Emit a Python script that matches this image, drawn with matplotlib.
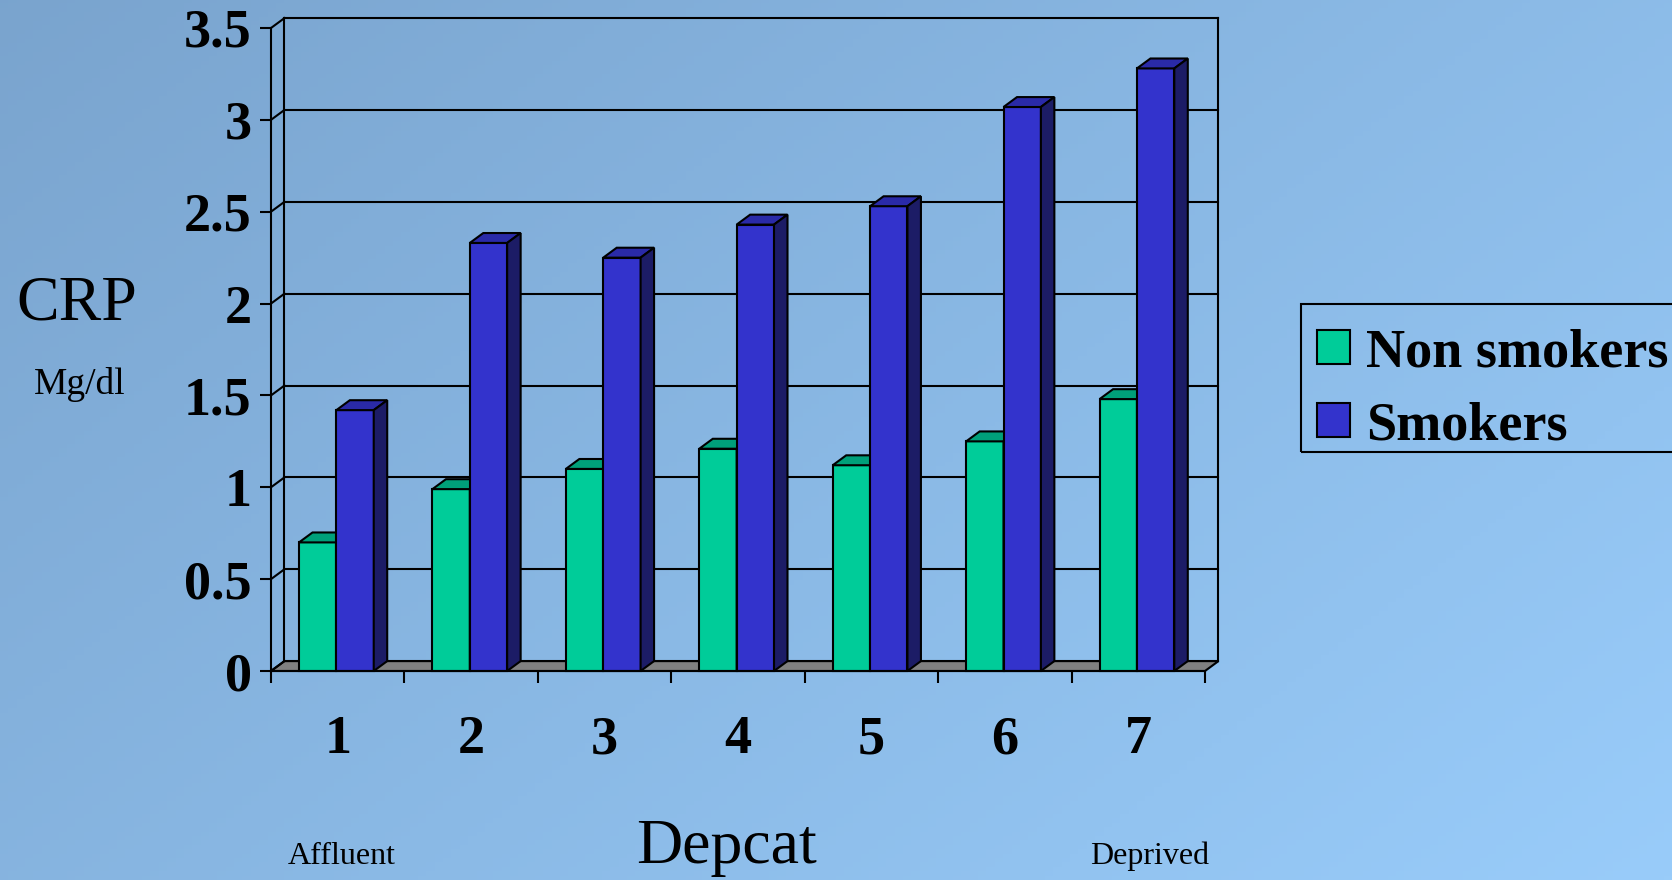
import numpy as np
import matplotlib
matplotlib.use('Agg')
import matplotlib.pyplot as plt
from matplotlib.patches import Polygon, Patch, Rectangle

# data
depcat = ['1', '2', '3', '4', '5', '6', '7']
non_smokers = [0.70, 0.99, 1.10, 1.21, 1.12, 1.25, 1.48]
smokers = [1.42, 2.33, 2.25, 2.43, 2.53, 3.07, 3.28]
series_names = ['Non smokers', 'Smokers']
yticks = [0, 0.5, 1, 1.5, 2, 2.5, 3, 3.5]
ytick_labels = ['0', '0.5', '1', '1.5', '2', '2.5', '3', '3.5']

green = '#00CC99'
green_top = '#00A07A'
blue = '#3333CC'
blue_top = '#2A2AA8'
blue_side = '#1C1C66'

plt.rcParams['font.family'] = ['Liberation Serif', 'DejaVu Serif']

W, H = 1672, 880
fig = plt.figure(figsize=(W / 100, H / 100), dpi=100)

# background gradient (darker top-left, lighter bottom-right)
bg = fig.add_axes([0, 0, 1, 1], zorder=-10)
gx, gy = np.meshgrid(np.linspace(0, 1, 200), np.linspace(0, 1, 200))
t = np.clip(0.6 * gx + 0.4 * gy, 0, 1)
c0 = np.array([0.478, 0.643, 0.808])
c1 = np.array([0.600, 0.800, 0.980])
img = c0[None, None, :] * (1 - t[..., None]) + c1[None, None, :] * t[..., None]
bg.imshow(img, aspect='auto', extent=[0, 1, 0, 1], origin='upper')
bg.axis('off')

# main axes: data (0,0) -> px (271,671), (7,3.5) -> px (1205,28)
x0, x1 = -0.2, 7.3
y0, y1 = -0.3, 3.6
pxc = (1205 - 271) / 7
pxv = (671 - 28) / 3.5
left = 271 + x0 * pxc
right = 271 + x1 * pxc
bottom = 671 - y0 * pxv
top = 671 - y1 * pxv
ax = fig.add_axes([left / W, 1 - bottom / H, (right - left) / W, (bottom - top) / H])
ax.set_xlim(x0, x1)
ax.set_ylim(y0, y1)
ax.patch.set_alpha(0)

n = len(depcat)
dx, dy = 0.101, 0.054
lw = 1.5

# floor
ax.add_patch(Polygon([(0, 0), (n, 0), (n + dx, dy), (dx, dy)], closed=True,
                     facecolor='#808080', edgecolor='black', linewidth=lw, zorder=1))
# back wall gridlines and side wall diagonals
for v in yticks:
    ax.plot([dx, n + dx], [v + dy, v + dy], color='black', lw=lw, zorder=1)
    ax.plot([0, dx], [v, v + dy], color='black', lw=lw, zorder=1)
ax.plot([dx, dx], [dy, 3.5 + dy], color='black', lw=lw, zorder=1)
ax.plot([n + dx, n + dx], [dy, 3.5 + dy], color='black', lw=lw, zorder=1)

# 3d-looking bars
a, w = 0.21, 0.28


def bar3d(xl, h, fc, tc, sc, z):
    ax.bar(xl, h, width=w, align='edge', color=fc, edgecolor='black', linewidth=lw, zorder=z)
    ax.add_patch(Polygon([(xl, h), (xl + w, h), (xl + w + dx, h + dy), (xl + dx, h + dy)],
                         closed=True, facecolor=tc, edgecolor='black', linewidth=lw, zorder=z))
    ax.add_patch(Polygon([(xl + w, 0), (xl + w + dx, dy), (xl + w + dx, h + dy), (xl + w, h)],
                         closed=True, facecolor=sc, edgecolor='black', linewidth=lw, zorder=z))


for i in range(n):
    bar3d(i + a, non_smokers[i], green, green_top, green_top, 3 + i * 0.1)
    bar3d(i + a + w, smokers[i], blue, blue_top, blue_side, 3.05 + i * 0.1)

# axes lines and ticks
for s in ['top', 'right']:
    ax.spines[s].set_visible(False)
ax.spines['left'].set_position(('data', 0))
ax.spines['left'].set_bounds(0, 3.5)
ax.spines['bottom'].set_position(('data', 0))
ax.spines['bottom'].set_bounds(0, n)
for s in ['left', 'bottom']:
    ax.spines[s].set_linewidth(lw)
    ax.spines[s].set_zorder(5)

ax.set_yticks(yticks)
ax.set_yticklabels(ytick_labels, fontsize=39, fontweight='bold')
ax.tick_params(axis='y', direction='out', length=8, width=lw, pad=6)
ax.set_xticks(np.arange(n + 1))
ax.set_xticklabels([])
ax.tick_params(axis='x', which='major', direction='out', length=8.5, width=lw)
ax.set_xticks(np.arange(n) + 0.5, minor=True)
ax.set_xticklabels(depcat, minor=True, fontsize=39, fontweight='bold')
ax.tick_params(axis='x', which='minor', length=0, pad=32)

# text
fig.text(77 / W, 1 - 304 / H, 'CRP', fontsize=46, ha='center', va='center')
fig.text(80 / W, 1 - 384 / H, 'Mg/dl', fontsize=27, ha='center', va='center')
fig.text(727 / W, 1 - 848 / H, 'Depcat', fontsize=46, ha='center', va='center')
fig.text(342 / W, 1 - 856 / H, 'Affluent', fontsize=23, ha='center', va='center')
fig.text(1150 / W, 1 - 856 / H, 'Deprived', fontsize=23, ha='center', va='center')

# legend (frame drawn separately so the entries can sit lower in the box)
handles = [Patch(facecolor=green, edgecolor='black', linewidth=lw),
           Patch(facecolor=blue, edgecolor='black', linewidth=lw)]
leg = fig.legend(handles, series_names, loc='upper left',
                 bbox_to_anchor=(1301 / W, 1 - 312 / H), borderaxespad=0,
                 prop={'weight': 'bold', 'size': 39}, frameon=False,
                 handlelength=0.6, handleheight=0.6,
                 handletextpad=0.3, borderpad=0.3, labelspacing=0.42)
fig.patches.append(Rectangle((1301 / W, 1 - 452 / H), (W - 1301 + 20) / W, 148 / H,
                             transform=fig.transFigure, fill=False,
                             edgecolor='black', linewidth=lw))

fig.savefig('out.png', dpi=100)
plt.close(fig)
